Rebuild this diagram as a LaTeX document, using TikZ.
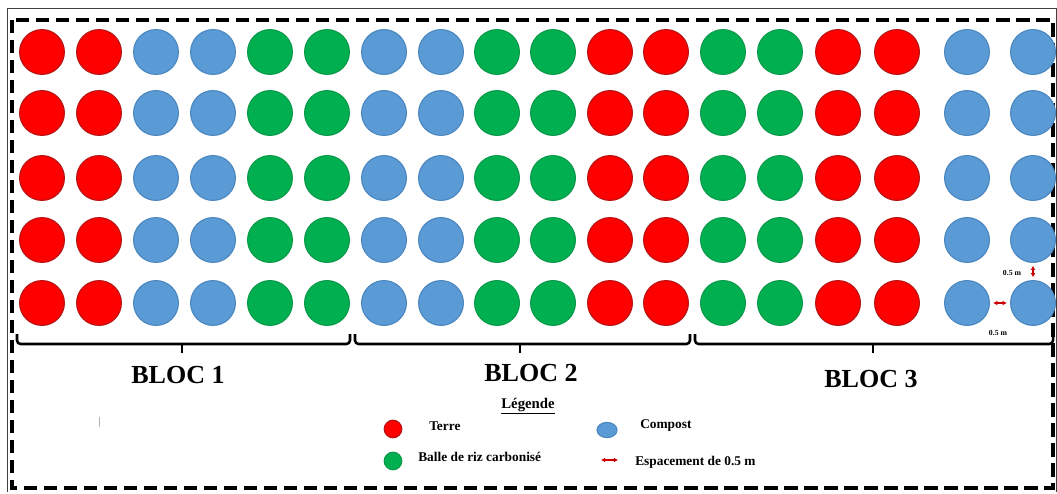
\documentclass[tikz,border=0pt]{standalone}
\usepackage{fontspec}
\setmainfont{Liberation Serif}
\usepackage{tikz}
\usetikzlibrary{arrows.meta,shapes.geometric}
\definecolor{terreRed}{HTML}{FF0000}
\definecolor{terreEdge}{HTML}{B81414}
\definecolor{compostBlue}{HTML}{5B9BD5}
\definecolor{compostEdge}{HTML}{4A87C0}
\definecolor{balleGreen}{HTML}{00B050}
\definecolor{balleEdge}{HTML}{0A9A4A}

\begin{document}
\begin{tikzpicture}[
  x=0.025cm,y=-0.025cm,
  pot/.style={circle,minimum size=1.12cm,inner sep=0pt,line width=0.8pt},
  terre/.style={pot,fill=terreRed,draw=terreEdge},
  compost/.style={pot,fill=compostBlue,draw=compostEdge},
  balle/.style={pot,fill=balleGreen,draw=balleEdge},
  blocbrace/.style={line width=1.8pt,rounded corners=0.09cm},
  bloclabel/.style={font=\fontsize{18.5}{20}\selectfont\bfseries},
  legtext/.style={font=\fontsize{9.5}{11}\selectfont\bfseries,anchor=west,
                  inner sep=0pt},
  smalltext/.style={font=\fontsize{5.5}{6}\selectfont\bfseries,inner sep=0pt},
  gap/.style={{Latex[length=3pt,width=3.5pt]}-{Latex[length=3pt,width=3.5pt]},
              red!80!black,line width=0.8pt}
]
\useasboundingbox (0,0) rectangle (1057,493);
% --- frames ---
\draw[line width=0.6pt,black!75] (7,492) |- (1056,8) -- (1056,492);
\draw[line width=2.2pt,dash pattern=on 0.33cm off 0.17cm] (12,20) rectangle (1053,488);
% --- pots: 5 rows x 18 columns ---
\foreach \y [count=\r] in {52,113,178,240,303}
  \foreach \x/\kind [count=\c] in {42/terre,99/terre,156/compost,213/compost,
      270/balle,327/balle,384/compost,441/compost,497/balle,553/balle,
      610/terre,666/terre,723/balle,780/balle,838/terre,897/terre,
      967/compost,1033/compost}
    \node[\kind] (c\r-\c) at (\x,\y) {};
% --- spacing marks ---
\draw[gap,shorten <=0.08cm,shorten >=0.08cm] (c5-17) -- (c5-18);
\draw[gap,shorten <=0.07cm,shorten >=0.07cm] (c4-18) -- (c5-18);
\node[smalltext] (sp-h) at (998,333) {0.5 m};
\node[smalltext] (sp-v) at (1012,273) {0.5 m};
% --- blocks ---
\foreach \a/\m/\b in {17/182/350,355/520/690,695/873/1053}{
  \draw[blocbrace] (\a,334) -- (\a,344) -- (\b,344) -- (\b,334);
  \draw[line width=1.8pt] (\m,344) -- (\m,353);
}
\node[bloclabel] (bloc1) at (178,375) {BLOC 1};
\node[bloclabel] (bloc2) at (531,373) {BLOC 2};
\node[bloclabel] (bloc3) at (871,379) {BLOC 3};
% --- legend ---
\node[font=\fontsize{10.5}{12}\selectfont\bfseries] (leg) at (528,406) {\underline{Légende}};
\node[terre,minimum size=0.44cm] (legTerre) at (393,429) {};
\node[legtext] (txtTerre) at (429,426) {Terre};
\node[ellipse,fill=compostBlue,draw=compostEdge,inner sep=0pt,line width=0.8pt,
      minimum width=0.5cm,minimum height=0.38cm] (legCompost) at (607,430) {};
\node[legtext] (txtCompost) at (640,425) {Compost};
\node[balle,minimum size=0.44cm] (legBalle) at (393,461) {};
\node[legtext] (txtBalle) at (418,457) {Balle de riz carbonisé};
\coordinate (gapL) at (601,460);
\coordinate (gapR) at (618,460);
\draw[gap] (gapL) -- (gapR);
\node[legtext] (txtGap) at (635,462) {Espacement de 0.5 m};
% stray mark
\coordinate (markT) at (99,417);
\coordinate (markB) at (99,427);
\draw[gray!60,line width=0.6pt] (markT) -- (markB);
\end{tikzpicture}
\end{document}
